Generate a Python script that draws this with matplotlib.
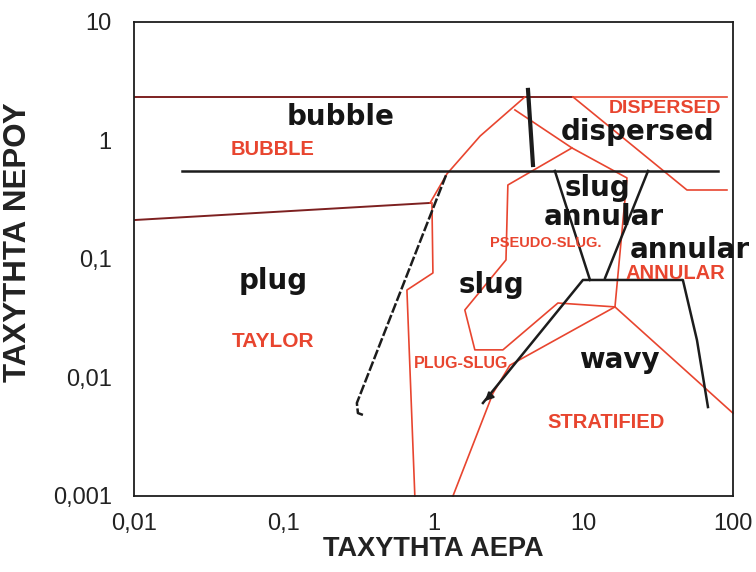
import matplotlib
matplotlib.use("Agg")
import matplotlib.pyplot as plt
from matplotlib.ticker import NullLocator

# axis ticks
x_ticks = [0.01, 0.1, 1, 10, 100]
x_tick_labels = ["0,01", "0,1", "1", "10", "100"]
y_ticks = [0.001, 0.01, 0.1, 1, 10]
y_tick_labels = ["0,001", "0,01", "0,1", "1", "10"]

# black (first map) boundaries: (air velocity, water velocity)
black_top_x = [0.021, 79.4]
black_top_y = [0.553, 0.553]
black_plug_x = [0.338, 0.313, 0.308, 1.23]
black_plug_y = [0.00483, 0.00501, 0.00609, 0.532]
black_disp_x = [4.28, 4.62]
black_disp_y = [2.67, 0.621]
black_sa_left_x = [6.47, 11.1]
black_sa_left_y = [0.553, 0.0665]
black_sa_right_x = [27.1, 14.0]
black_sa_right_y = [0.553, 0.0692]
black_wavy_x = [2.14, 9.96, 46.3, 57.5, 68.1]
black_wavy_y = [0.00609, 0.0665, 0.0665, 0.0207, 0.00563]

# red (second map) boundaries
red_top_dark_x = [0.01, 8.5]
red_top_light_x = [8.5, 91.2]
red_top_y = [2.33, 2.33]
red_left_x = [0.01, 0.949]
red_left_y = [0.213, 0.297]
red_bubble_x = [0.949, 1.23, 2.05, 4.08]
red_bubble_y = [0.297, 0.522, 1.09, 2.33]
red_taylor_x = [0.977, 0.992, 0.665, 0.751]
red_taylor_y = [0.297, 0.0762, 0.0547, 0.001]
red_disp_in_x = [3.50, 8.41, 19.6, 16.3]
red_disp_in_y = [1.81, 0.865, 0.483, 0.0394]
red_pseudo_x = [8.41, 3.14, 3.05, 1.62, 1.89, 2.91, 6.78, 16.3]
red_pseudo_y = [0.865, 0.421, 0.0981, 0.0371, 0.0171, 0.0171, 0.0425, 0.0394]
red_strat_x = [1.35, 2.50, 3.24, 16.3, 100]
red_strat_y = [0.001, 0.00739, 0.0127, 0.0394, 0.005]
red_disp_out_x = [8.55, 49.3, 91.2]
red_disp_out_y = [2.33, 0.382, 0.382]

# regime names
black_names = ["bubble", "dispersed", "slug", "annular", "annular", "plug", "slug", "wavy"]
black_name_x = [0.238, 23.2, 12.4, 13.8, 51.6, 0.0848, 2.46, 17.3]
black_name_y = [1.58, 1.18, 0.395, 0.228, 0.118, 0.0652, 0.0604, 0.01406]
red_names = ["BUBBLE", "DISPERSED", "PSEUDO-SLUG.", "ANNULAR", "TAYLOR", "PLUG-SLUG", "STRATIFIED"]
red_name_x = [0.0848, 35.2, 5.64, 41.0, 0.0848, 1.53, 14.2]
red_name_y = [0.832, 1.85, 0.136, 0.0750, 0.0200, 0.01324, 0.00421]
red_name_size = [14.5, 14, 10.5, 14.5, 15, 11.5, 14.5]

RED = "#e8452f"
DARK_RED = "#7d2020"
BLACK = "#1c1c1c"

fig = plt.figure(figsize=(7.56, 5.72), dpi=100)
ax = fig.add_axes([0.1772, 0.1329, 0.7923, 0.8287])
ax.set_xscale("log")
ax.set_yscale("log")
ax.set_xlim(0.01, 100)
ax.set_ylim(0.001, 10)

# red lines
ax.plot(red_top_dark_x, red_top_y, color=DARK_RED, lw=1.4)
ax.plot(red_top_light_x, red_top_y, color=RED, lw=1.2)
ax.plot(red_left_x, red_left_y, color=DARK_RED, lw=1.4)
for xs, ys in [(red_bubble_x, red_bubble_y), (red_taylor_x, red_taylor_y),
               (red_disp_in_x, red_disp_in_y), (red_pseudo_x, red_pseudo_y),
               (red_strat_x, red_strat_y), (red_disp_out_x, red_disp_out_y)]:
    ax.plot(xs, ys, color=RED, lw=1.2, clip_on=False)

# black lines
ax.plot(black_top_x, black_top_y, color=BLACK, lw=1.8)
ax.plot(black_plug_x, black_plug_y, color=BLACK, lw=1.8, ls=(0, (4, 1)))
ax.plot(black_disp_x, black_disp_y, color=BLACK, lw=3.0)
ax.plot(black_sa_left_x, black_sa_left_y, color=BLACK, lw=1.8)
ax.plot(black_sa_right_x, black_sa_right_y, color=BLACK, lw=1.8)
ax.plot(black_wavy_x, black_wavy_y, color=BLACK, lw=1.8)
# arrow tip at the lower end of the wavy boundary
ax.annotate("", xy=(black_wavy_x[0], black_wavy_y[0]), xytext=(2.5, 0.0074),
            arrowprops=dict(arrowstyle="-|>", color=BLACK, lw=1.5,
                            mutation_scale=12))

for name, x, y in zip(black_names, black_name_x, black_name_y):
    ax.text(x, y, name, color="#151515", fontsize=20, fontweight="bold",
            family="DejaVu Sans", ha="center", va="center", clip_on=False)
for name, x, y, s in zip(red_names, red_name_x, red_name_y, red_name_size):
    ax.text(x, y, name, color=RED, fontsize=s, fontweight="bold",
            family="Liberation Sans", ha="center", va="center")

ax.set_xticks(x_ticks, x_tick_labels)
ax.set_yticks(y_ticks, y_tick_labels)
ax.xaxis.set_minor_locator(NullLocator())
ax.yaxis.set_minor_locator(NullLocator())
ax.tick_params(length=0, labelsize=17, labelcolor="#222222")
ax.tick_params(axis="x", pad=12)
ax.tick_params(axis="y", pad=16)
for lab in ax.get_xticklabels() + ax.get_yticklabels():
    lab.set_family("Liberation Sans")

for sp in ax.spines.values():
    sp.set_color(BLACK)
    sp.set_linewidth(1.3)

ax.set_xlabel("ΤΑΧΥΤΗΤΑ ΑΕΡΑ", fontsize=19.5, fontweight="bold",
              family="Liberation Sans", color="#222222", labelpad=1)
ax.set_ylabel("ΤΑΧΥΤΗΤΑ ΝΕΡΟΥ", fontsize=22.5, fontweight="bold",
              family="Liberation Sans", color="#222222")
ax.yaxis.set_label_coords(-0.168, 0.535)

fig.savefig("out.png", dpi=100)
